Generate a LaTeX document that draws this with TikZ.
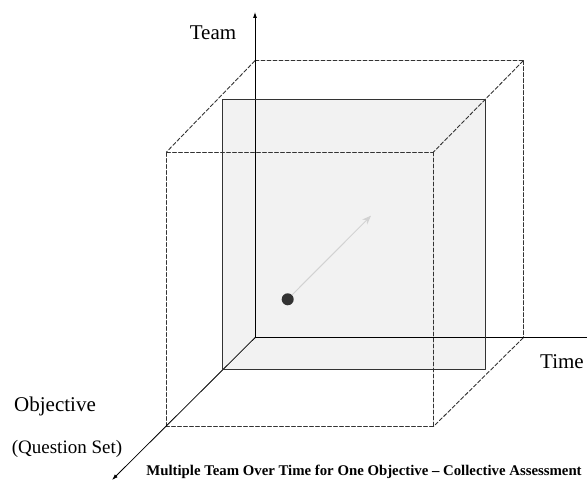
\documentclass[tikz,border=0pt]{standalone}
\usepackage{tkz-euclide}
\usepackage{tikz}
\usepackage{fontspec}
\setmainfont{Liberation Serif}
\usetikzlibrary{arrows.meta}

\begin{document}
\begin{tikzpicture}[x=1pt,y=1pt,
    axislabel/.style={font=\fontsize{21}{25}\selectfont},
    edge/.style={line width=0.9pt,black!80,dash pattern=on 4pt off 2pt}]
    \useasboundingbox (0,0) rectangle (587,482);
    \tkzDefPoints{255/144.3/O,255/470/T,590/144.3/E,112/2/Q}
    \tkzDefPoints{255/421.3/B,523.3/421.3/C,523.3/144.3/D}
    \tkzDefPoints{222/112/S,485/112/U,485/382.7/V,222/382.7/W}
    \tkzDefPoints{166.5/55.5/F,433.5/55.5/G,433.5/330/H,166.5/330/K}
    \tkzDefPoints{287.7/182.7/P,371/266.3/R}
    \fill[gray!10] (S)--(U)--(V)--(W)--cycle;
    \tkzDrawSegments[edge](B,C C,D K,H H,G G,F F,K B,K C,H D,G)
    % ASSI
    \tkzDrawSegments[line width=0.8pt,-{Latex[length=6pt,width=4pt]}](O,T O,Q)
    \tkzDrawSegments[line width=0.8pt](O,E)
    \tkzDrawPolygon[line width=1pt,black!80](S,U,V,W)
    \node (dot) [circle,fill=black!80,inner sep=0pt,minimum size=12pt] at (P) {};
    \draw[gray!35,line width=1pt,-{Stealth[length=9pt,width=7pt]}] (dot) -- (R);
    \node[axislabel] (team) at (213,449) {Team};
    \node[axislabel] (time) at (562,120) {Time};
    \node[axislabel] (obj) at (55,76) {Objective};
    \node[axislabel,font=\fontsize{19}{23}\selectfont] (qset) at (67,33) {(Question Set)};
    \node[font=\fontsize{14.8}{17}\selectfont\bfseries] (caption) at (364,10)
        {Multiple Team Over Time for One Objective -- Collective Assessment};
\end{tikzpicture}
\end{document}
